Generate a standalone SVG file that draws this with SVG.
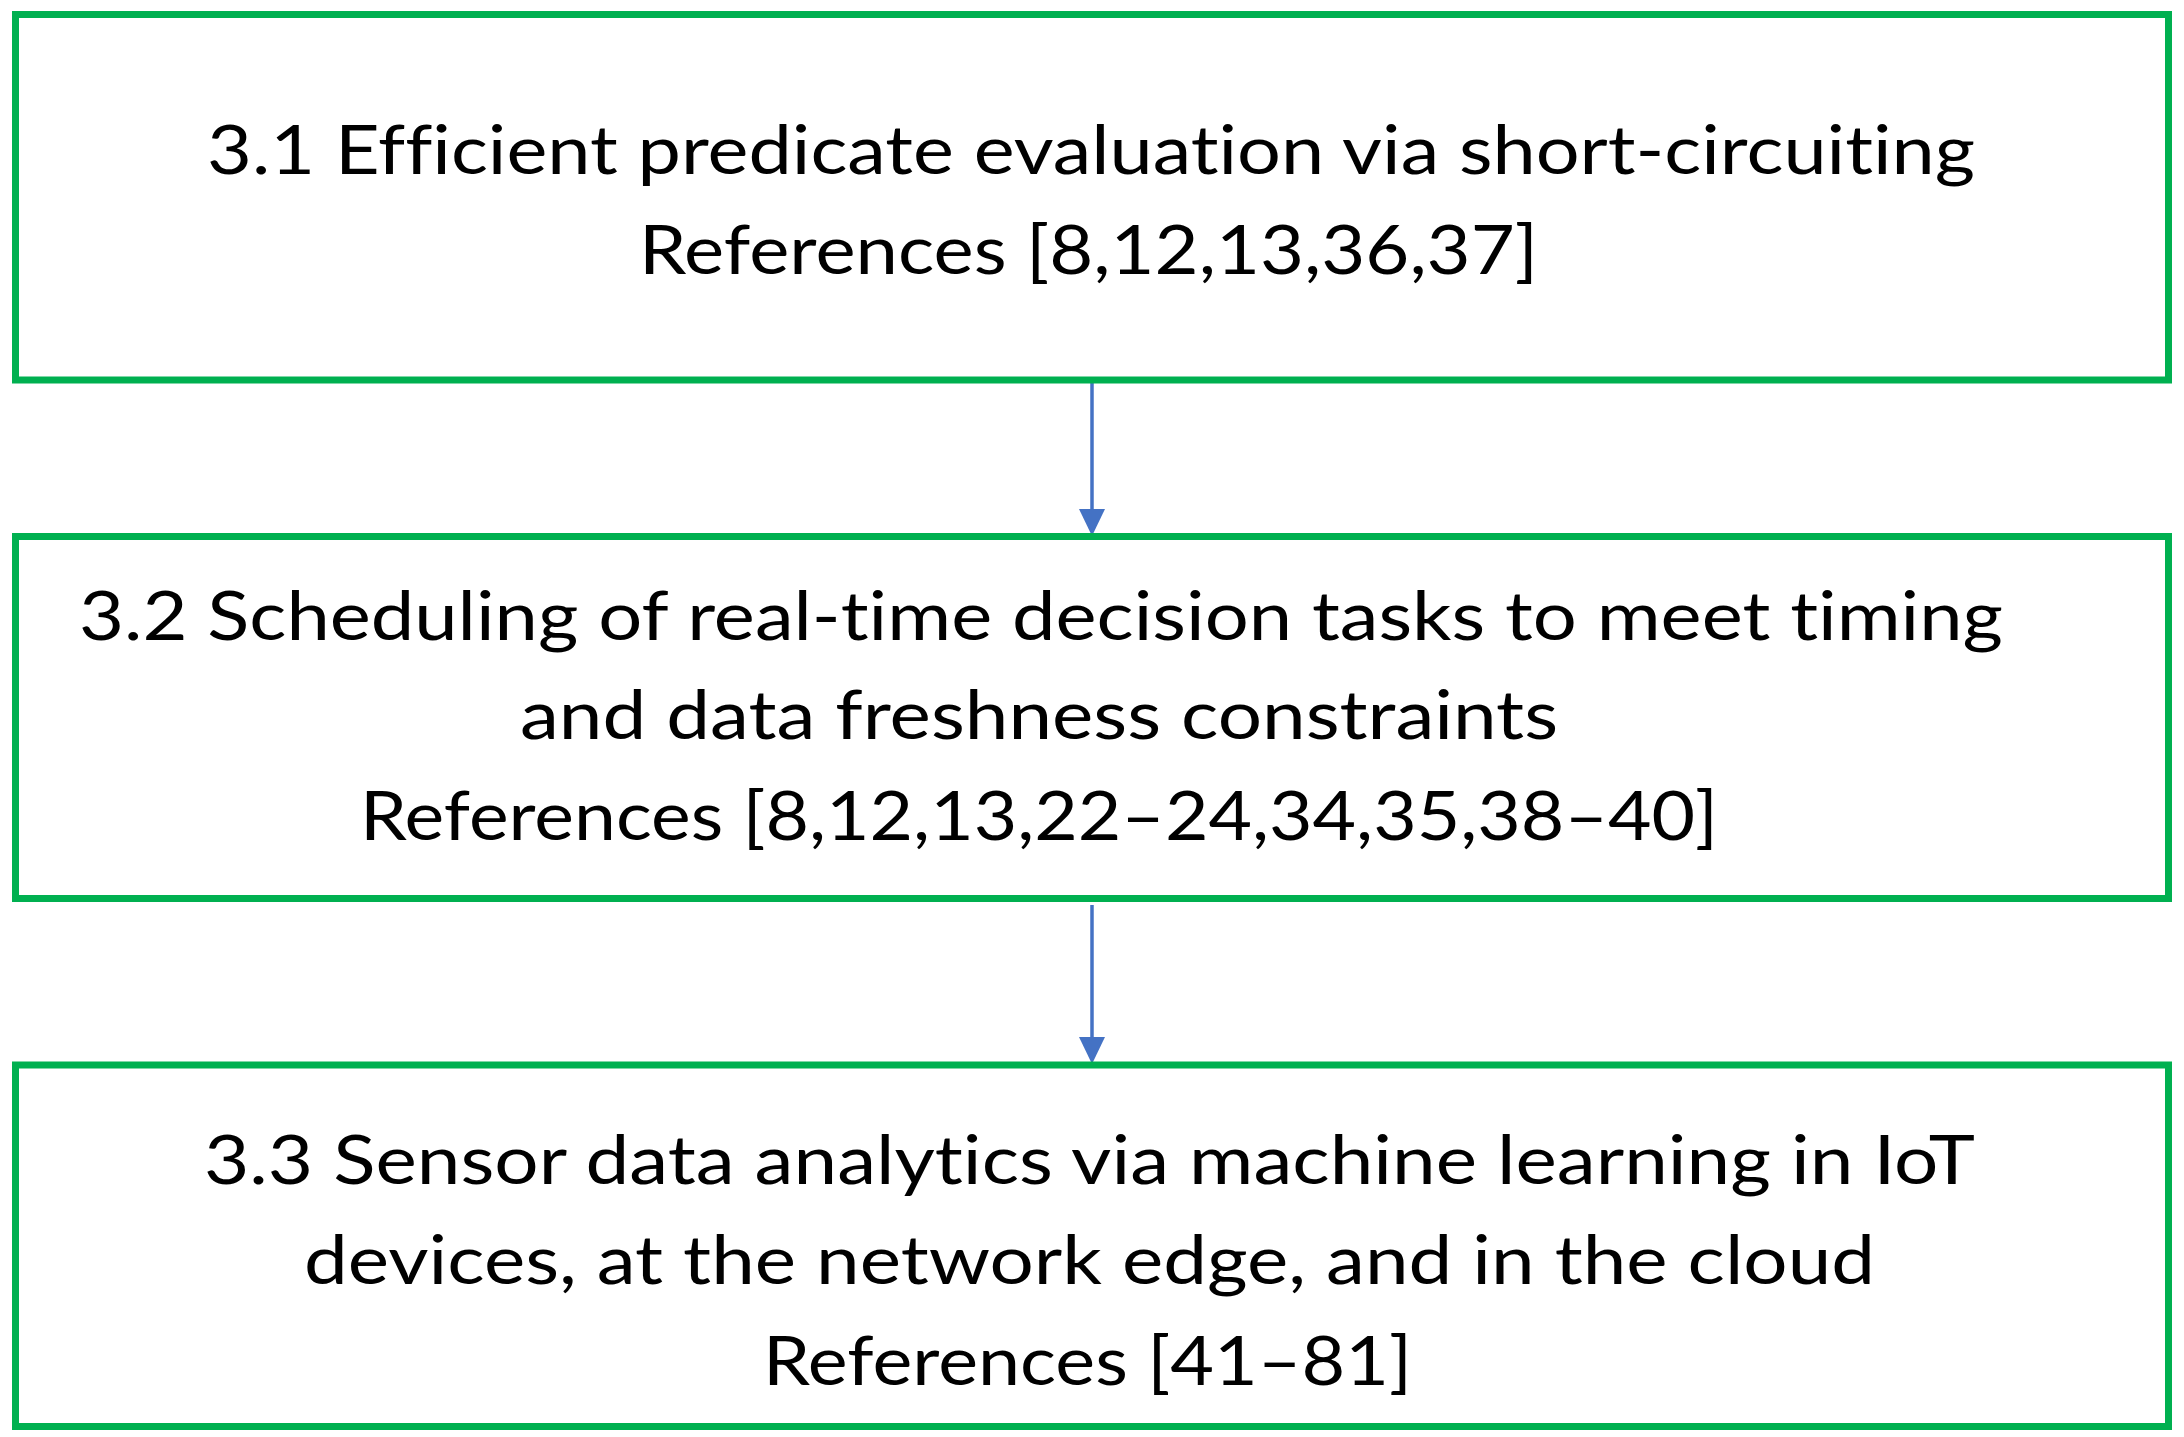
<svg xmlns="http://www.w3.org/2000/svg" width="2184" height="1437" viewBox="0 0 2184 1437">
<style>
.box{fill:#ffffff;stroke:#00B050;stroke-width:7}
.t{font-family:Lato,"Open Sans","Liberation Sans",sans-serif;font-size:68px;fill:#000000;font-variant-ligatures:none;font-feature-settings:"liga" 0,"clig" 0}
.c{stroke:#4472C4;stroke-width:3.5;fill:none}
</style>
<defs>
<marker id="ah" markerUnits="userSpaceOnUse" markerWidth="27" markerHeight="26" refX="23" refY="13" orient="auto" viewBox="0 0 27 26">
<path d="M0,0 L27,13 L0,26 Z" fill="#4472C4"/>
</marker>
</defs>
<rect width="2184" height="1437" fill="#ffffff"/>
<g id="connectors">
<line class="c" x1="1092" y1="383" x2="1092" y2="532" marker-end="url(#ah)"/>
<line class="c" x1="1092" y1="905" x2="1092" y2="1060" marker-end="url(#ah)"/>
</g>
<g id="node1">
<rect class="box" x="15.5" y="14.5" width="2153" height="365.5"/>
<text class="t" x="207" y="174" textLength="1768" lengthAdjust="spacingAndGlyphs">3.1 Efficient predicate evaluation via short-circuiting</text>
<text class="t" x="639" y="274" textLength="899" lengthAdjust="spacingAndGlyphs">References [8,12,13,36,37]</text>
</g>
<g id="node2">
<rect class="box" x="15.5" y="536.5" width="2153" height="362"/>
<text class="t" x="79" y="640" textLength="1924" lengthAdjust="spacingAndGlyphs">3.2 Scheduling of real-time decision tasks to meet timing</text>
<text class="t" x="520" y="739" textLength="1038" lengthAdjust="spacingAndGlyphs">and data freshness constraints</text>
<text class="t" x="360" y="840" textLength="1358" lengthAdjust="spacingAndGlyphs">References [8,12,13,22–24,34,35,38–40]</text>
</g>
<g id="node3">
<rect class="box" x="15.5" y="1065" width="2153" height="361.5"/>
<text class="t" x="204" y="1184" textLength="1771" lengthAdjust="spacingAndGlyphs">3.3 Sensor data analytics via machine learning in IoT</text>
<text class="t" x="304" y="1284" textLength="1571" lengthAdjust="spacingAndGlyphs">devices, at the network edge, and in the cloud</text>
<text class="t" x="763" y="1385" textLength="649" lengthAdjust="spacingAndGlyphs">References [41–81]</text>
</g>
</svg>
